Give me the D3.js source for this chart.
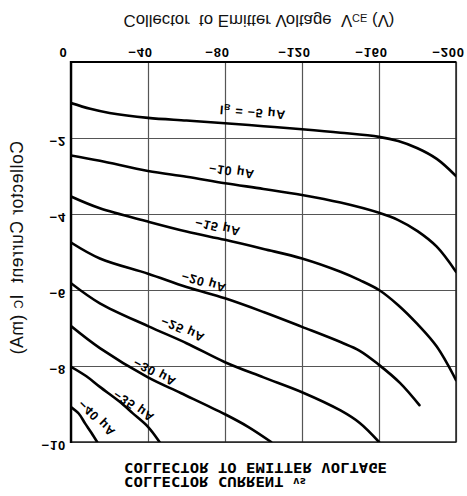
<!DOCTYPE html>
<html>
<head>
<meta charset="utf-8">
<script src="https://cdn.jsdelivr.net/npm/d3@7"></script>
<style>
  html, body { margin: 0; padding: 0; background: #fff; }
  svg { display: block; }
  text { white-space: pre; }
</style>
</head>
<body>
<svg id="chart" width="467" height="496"></svg>
<script>
// Output characteristics of a PNP transistor, drawn mirrored top-to-bottom.
// Each curve: [Vce (V), Ic (mA)] samples at a fixed base current.
const ic_ib5  = [[0,-1.08],[-10,-1.23],[-20,-1.34],[-40,-1.47],[-60,-1.54],[-80,-1.61],[-100,-1.69],[-120,-1.77],[-140,-1.86],[-160,-1.97],[-170,-2.08],[-180,-2.27],[-190,-2.55],[-200,-3.0]];
const ic_ib10 = [[0,-2.46],[-15,-2.6],[-40,-2.87],[-60,-3.02],[-80,-3.19],[-100,-3.34],[-120,-3.5],[-140,-3.7],[-160,-3.97],[-170,-4.16],[-180,-4.45],[-190,-4.86],[-200,-5.52]];
const ic_ib15 = [[0,-3.54],[-15,-3.85],[-40,-4.2],[-60,-4.46],[-80,-4.68],[-100,-4.92],[-120,-5.17],[-140,-5.52],[-150,-5.74],[-160,-6.0],[-170,-6.4],[-180,-6.9],[-190,-7.49],[-200,-8.37]];
const ic_ib20 = [[0,-4.75],[-15,-5.17],[-40,-5.57],[-60,-5.92],[-80,-6.22],[-100,-6.58],[-120,-6.97],[-140,-7.37],[-150,-7.6],[-160,-7.97],[-171,-8.45],[-181,-9.03]];
const ic_ib25 = [[0,-5.82],[-15,-6.35],[-40,-6.95],[-60,-7.4],[-80,-7.9],[-100,-8.3],[-120,-8.69],[-140,-9.17],[-150,-9.5],[-160,-10]];
const ic_ib30 = [[0,-6.95],[-15,-7.53],[-40,-8.3],[-57,-8.71],[-80,-9.27],[-92,-9.6],[-104,-10]];
const ic_ib35 = [[0,-8.02],[-8,-8.27],[-15,-8.55],[-25,-8.93],[-32,-9.24],[-40,-9.6],[-46,-10]];
const ic_ib40 = [[0,-9.08],[-4,-9.25],[-7.3,-9.51],[-10.5,-9.75],[-13.6,-10]];

const curves = [ic_ib5, ic_ib10, ic_ib15, ic_ib20, ic_ib25, ic_ib30, ic_ib35, ic_ib40];
const baseCurrents = [-5, -10, -15, -20, -25, -30, -35, -40];

const xTicks = [0, -40, -80, -120, -160, -200];
const xTickLabels = ["0", "\u221240", "\u221280", "\u2212120", "\u2212160", "\u2212200"];
const yTicks = [-2, -4, -6, -8, -10];
const yTickLabels = ["\u22122", "\u22124", "\u22126", "\u22128", "\u221210"];

// Where each curve's base-current label sits: [Vce, Ic, rotation in degrees]
const labelPlacement = [
  [-94.5, -1.32, 4.5], [-83.6, -2.87, 8], [-76.4, -4.34, 12], [-69.1, -5.79, 16],
  [-58.2, -7.03, 23], [-43.6, -8.16, 27], [-32.7, -9.05, 34], [-13.5, -9.37, 44]
];

const svg = d3.select("#chart");
const x = d3.scaleLinear().domain([0, -200]).range([71, 456]);
const y = d3.scaleLinear().domain([0, -10]).range([62, 442]);
const plotW = x(-200) - x(0), plotH = y(-10) - y(0);

const tickFont = "'Liberation Sans', Arial, sans-serif";
const mirror = (dx, dy, a = 0) => `translate(${dx},${dy}) rotate(${a}) scale(1,-1)`;

// Vertical grid + voltage labels along the top edge
const gx = svg.append("g")
  .attr("transform", `translate(0,${y(0)})`)
  .call(d3.axisTop(x).tickValues(xTicks).tickSize(-plotH).tickSizeOuter(0)
        .tickFormat((d, i) => xTickLabels[i]));
gx.select(".domain").remove();
gx.attr("font-family", tickFont).attr("font-size", 13).attr("font-weight", "bold");
gx.selectAll(".tick line").attr("stroke", "#555").attr("stroke-width", 1.2);
gx.selectAll(".tick text")
  .attr("y", null).attr("dy", null)
  .attr("text-anchor", "middle").attr("dominant-baseline", "central")
  .attr("letter-spacing", 0.8)
  .attr("transform", mirror(-8, -10));

// Horizontal grid + current labels along the left edge
const gy = svg.append("g")
  .attr("transform", `translate(${x(0)},0)`)
  .call(d3.axisLeft(y).tickValues(yTicks).tickSize(-plotW).tickSizeOuter(0)
        .tickFormat((d, i) => yTickLabels[i]));
gy.select(".domain").remove();
gy.attr("font-family", tickFont).attr("font-size", 13).attr("font-weight", "bold");
gy.selectAll(".tick line").attr("stroke", "#555").attr("stroke-width", 1.2);
gy.selectAll(".tick text")
  .attr("x", null).attr("dy", null)
  .attr("text-anchor", "end").attr("dominant-baseline", "central")
  .attr("letter-spacing", 0.8)
  .attr("transform", mirror(-5, 3));

// Plot frame
svg.append("rect")
  .attr("x", x(0)).attr("y", y(0)).attr("width", plotW).attr("height", plotH)
  .attr("fill", "none").attr("stroke", "#222").attr("stroke-width", 1.5);
svg.append("line")
  .attr("x1", x(0)).attr("x2", x(0)).attr("y1", y(0) - 1).attr("y2", y(-10) + 1)
  .attr("stroke", "#000").attr("stroke-width", 2.4);
svg.append("line")
  .attr("x1", x(0)).attr("x2", x(-200)).attr("y1", y(0)).attr("y2", y(0))
  .attr("stroke", "#000").attr("stroke-width", 2);

// Characteristic curves
svg.append("clipPath").attr("id", "plot-clip")
  .append("rect").attr("x", x(0)).attr("y", y(0)).attr("width", plotW).attr("height", plotH);

const line = d3.line()
  .x(d => x(d[0])).y(d => y(d[1]))
  .curve(d3.curveCatmullRom.alpha(0.5));

svg.append("g").attr("clip-path", "url(#plot-clip)")
  .selectAll("path").data(curves).join("path")
  .attr("d", line)
  .attr("fill", "none").attr("stroke", "#000")
  .attr("stroke-width", 2.6).attr("stroke-linecap", "round").attr("stroke-linejoin", "round");

// Base-current labels
const labels = svg.append("g")
  .attr("font-family", tickFont).attr("font-size", 12.5).attr("font-weight", "bold")
  .attr("fill", "#000");
baseCurrents.forEach((ib, i) => {
  const [v, c, a] = labelPlacement[i];
  const t = labels.append("text")
    .attr("text-anchor", "middle").attr("dominant-baseline", "central")
    .attr("letter-spacing", 0.8)
    .attr("transform", mirror(x(v), y(c), a));
  const val = `\u2212${Math.abs(ib)} \u03bcA`;
  if (i === 0) {
    t.append("tspan").text("I");
    t.append("tspan").attr("font-size", 8.5).attr("dy", 3).text("B");
    t.append("tspan").attr("dy", -3).text(" = " + val);
  } else {
    t.text(val);
  }
});

// Axis titles
const title = svg.append("text")
  .attr("font-family", tickFont).attr("font-size", 16.8).attr("fill", "#111")
  .attr("text-anchor", "middle").attr("dominant-baseline", "central")
  .attr("transform", mirror(259, 21));
title.append("tspan").text("Collector  to Emitter Voltage  V");
title.append("tspan").attr("font-size", 11).attr("dy", 3).text("CE");
title.append("tspan").attr("dy", -3).text(" (V)");

const ylab = svg.append("text")
  .attr("font-family", tickFont).attr("font-size", 17.5).attr("fill", "#111")
  .attr("letter-spacing", 0.6)
  .attr("text-anchor", "middle").attr("dominant-baseline", "central")
  .attr("transform", mirror(17, 248, 90));
ylab.append("tspan").text("Collector Current  I");
ylab.append("tspan").attr("font-size", 12).attr("dy", 2).text("C");
ylab.append("tspan").attr("dy", -2).text(" (mA)");

// Chart caption
const capFont = "'DejaVu Sans Mono', 'Liberation Mono', monospace";
svg.append("text")
  .attr("font-family", capFont).attr("font-size", 14).attr("font-weight", "bold")
  .attr("dominant-baseline", "central")
  .attr("textLength", 263).attr("lengthAdjust", "spacingAndGlyphs")
  .attr("transform", mirror(124, 468))
  .text("COLLECTOR TO EMITTER VOLTAGE");
const cap2 = svg.append("text")
  .attr("font-family", capFont).attr("font-size", 14).attr("font-weight", "bold")
  .attr("dominant-baseline", "central")
  .attr("transform", mirror(124, 482));
cap2.append("tspan").attr("textLength", 169).attr("lengthAdjust", "spacingAndGlyphs")
  .text("COLLECTOR CURRENT ");
cap2.append("tspan").attr("font-size", 11).text("vs");
</script>
</body>
</html>
